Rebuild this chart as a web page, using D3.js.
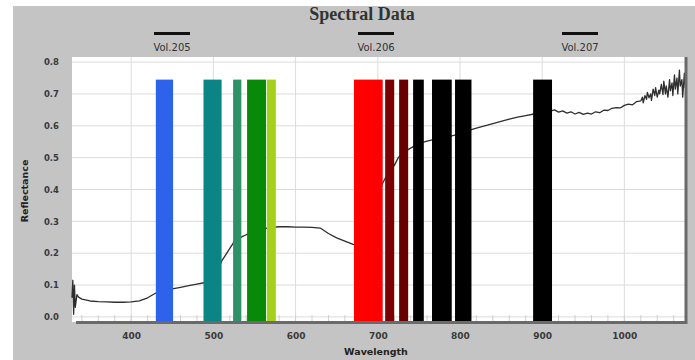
<!DOCTYPE html>
<html><head><meta charset="utf-8">
<script src="https://cdn.jsdelivr.net/npm/d3@7"></script>
<style>body{margin:0;background:#fff}svg{display:block}</style>
</head><body>
<svg id="c" width="695" height="360"></svg>
<script>
// ---- data ----
const wavelengths = [328,329,330,331,332,334,336,340,350,360,370,380,390,400,410,420,430,440,450,460,470,480,490,500,505,510,515,520,525,530,535,540,550,560,570,580,590,600,610,620,630,640,650,660,670,675,680,690,700,705,710,715,720,725,730,740,750,760,770,780,790,800,810,820,830,840,850,860,870,880,890,900,905,910,915,920,925,930,935,940,945,950,955,960,965,970,975,980,985,990,995,1000,1005,1010,1015,1020,1022,1023,1025,1027,1028,1030,1032,1033,1035,1037,1038,1040,1042,1043,1045,1047,1048,1050,1051,1053,1055,1056,1058,1059,1061,1062,1064,1065,1067,1068,1070,1071,1073,1074,1075];
const reflectance = [0.06,0.115,0.008,0.10,0.03,0.07,0.062,0.056,0.050,0.048,0.047,0.046,0.046,0.047,0.050,0.060,0.075,0.082,0.088,0.093,0.098,0.103,0.108,0.125,0.145,0.175,0.195,0.215,0.235,0.245,0.252,0.258,0.268,0.276,0.281,0.283,0.283,0.282,0.282,0.281,0.279,0.262,0.248,0.238,0.228,0.226,0.235,0.28,0.35,0.415,0.44,0.46,0.475,0.50,0.515,0.53,0.545,0.552,0.558,0.563,0.568,0.575,0.585,0.593,0.600,0.607,0.614,0.621,0.627,0.632,0.637,0.641,0.644,0.646,0.650,0.643,0.647,0.640,0.644,0.637,0.642,0.636,0.640,0.637,0.644,0.641,0.649,0.648,0.655,0.657,0.656,0.664,0.668,0.666,0.676,0.678,0.69,0.672,0.695,0.683,0.705,0.688,0.70,0.68,0.715,0.695,0.72,0.69,0.712,0.70,0.73,0.698,0.74,0.70,0.725,0.69,0.745,0.71,0.735,0.695,0.76,0.715,0.75,0.70,0.775,0.725,0.745,0.69,0.765,0.72,0.74];
const bandStart = [430,488,524,541,565,671,709,726,743,766,794,889];
const bandEnd   = [451,510,534,564,576,706,720,737,756,790,814,912];
const bandColor = ["#2f62ec","#0a8484","#2f9168","#088a08","#a4d21c","#ff0000","#780000","#690000","#000000","#000000","#000000","#000000"];
const bandTop = 0.745;
const xTicks = [400,500,600,700,800,900,1000];
const yTicks = [0,0.1,0.2,0.3,0.4,0.5,0.6,0.7,0.8];
const legendLabels = ["Vol.205","Vol.206","Vol.207"];
const legendCenters = [172,376,580];

// ---- drawing ----
const svg = d3.select("#c");
svg.append("rect").attr("x",13).attr("y",6).attr("width",682).attr("height",354).attr("fill","#c4c4c4");

const L=72,R=686,T=57,B=322;
const x = d3.scaleLinear().domain([328,1075]).range([L,R]);
const y = d3.scaleLinear().domain([-0.016,0.816]).range([B,T]);

svg.append("rect").attr("x",L).attr("y",T).attr("width",R-L).attr("height",B-T).attr("fill","#ffffff");

// grid
const g = svg.append("g");
g.selectAll(".hg").data(yTicks).join("line")
  .attr("x1",L).attr("x2",R).attr("y1",d=>y(d)).attr("y2",d=>y(d))
  .attr("stroke","#dcdcdc").attr("stroke-width",1);
g.selectAll(".vg").data(xTicks).join("line")
  .attr("y1",T).attr("y2",B).attr("x1",d=>x(d)).attr("x2",d=>x(d))
  .attr("stroke","#dcdcdc").attr("stroke-width",1);
// minor ticks at bottom
g.selectAll(".mt").data(d3.range(340,1075,20)).join("line")
  .attr("y1",B-7).attr("y2",B).attr("x1",d=>x(d)).attr("x2",d=>x(d))
  .attr("stroke","#d0d0d0").attr("stroke-width",1);

// spectrum
const pts = wavelengths.map((w,i)=>[w,reflectance[i]]);
svg.append("path").datum(pts)
  .attr("d",d3.line().x(d=>x(d[0])).y(d=>y(d[1])))
  .attr("fill","none").attr("stroke","#2e2e2e").attr("stroke-width",1.3).attr("stroke-linejoin","round");

// bands
svg.append("g").selectAll("rect").data(bandStart).join("rect")
  .attr("x",(d)=>x(d)).attr("width",(d,i)=>x(bandEnd[i])-x(d))
  .attr("y",y(bandTop)).attr("height",y(-0.016)-y(bandTop))
  .attr("fill",(d,i)=>bandColor[i]);

// frame: dark bottom & right
svg.append("line").attr("x1",L+4).attr("x2",R+1).attr("y1",B+0.5).attr("y2",B+0.5).attr("stroke","#6a6a6a").attr("stroke-width",3);
svg.append("line").attr("x1",R).attr("x2",R).attr("y1",T).attr("y2",B+2).attr("stroke","#6a6a6a").attr("stroke-width",3);

// axes labels
const font = "DejaVu Sans, Verdana, sans-serif";
const xAxis = d3.axisBottom(x).tickValues(xTicks).tickSize(0).tickPadding(0).tickFormat(d3.format("d"));
const xg = svg.append("g").attr("transform",`translate(0,${B+11})`).call(xAxis);
xg.select(".domain").remove();
xg.selectAll("text").attr("font-family",font).attr("font-size",9).attr("fill","#3a3a3a").attr("font-weight","bold");

const yAxis = d3.axisLeft(y).tickValues(yTicks).tickSize(0).tickPadding(0).tickFormat(d3.format(".1f"));
const yg = svg.append("g").attr("transform",`translate(${L-13},0)`).call(yAxis);
yg.select(".domain").remove();
yg.selectAll("text").attr("font-family",font).attr("font-size",8.5).attr("fill","#3a3a3a").attr("font-weight","bold");

svg.append("text").attr("x",376).attr("y",355).attr("text-anchor","middle")
  .attr("font-family",font).attr("font-size",9.5).attr("font-weight","bold").attr("fill","#222").text("Wavelength");
svg.append("text").attr("transform","translate(28,191) rotate(-90)").attr("text-anchor","middle")
  .attr("font-family",font).attr("font-size",9.5).attr("font-weight","bold").attr("fill","#222").text("Reflectance");

// title
svg.append("text").attr("x",362).attr("y",20).attr("text-anchor","middle")
  .attr("font-family","Liberation Serif, Times New Roman, serif").attr("font-size",18).attr("font-weight","bold").attr("fill","#333").text("Spectral Data");

// legend
const lg = svg.append("g").selectAll("g").data(legendLabels).join("g")
  .attr("transform",(d,i)=>`translate(${legendCenters[i]},0)`);
lg.append("line").attr("x1",-18).attr("x2",18).attr("y1",33.5).attr("y2",33.5).attr("stroke","#111").attr("stroke-width",3);
lg.append("text").attr("x",0).attr("y",51).attr("text-anchor","middle")
  .attr("font-family",font).attr("font-size",10).attr("fill","#333").text(d=>d);
</script>
</body></html>
